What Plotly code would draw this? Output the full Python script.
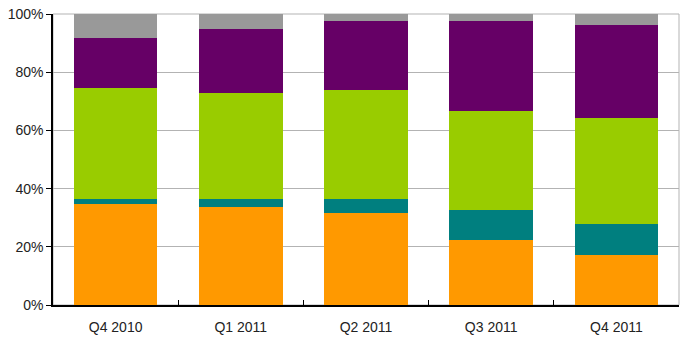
import plotly.graph_objects as go

categories = ["Q4 2010", "Q1 2011", "Q2 2011", "Q3 2011", "Q4 2011"]
orange_vals = [34.8, 33.7, 31.7, 22.5, 17.2]
teal_vals = [1.6, 2.6, 4.6, 10.1, 10.6]
green_vals = [38.3, 36.4, 37.5, 34.2, 36.3]
purple_vals = [17.2, 22.3, 23.8, 30.8, 32.0]
gray_vals = [8.1, 5.0, 2.4, 2.4, 3.9]

series = [
    ("Series 1", orange_vals, "#FF9900"),
    ("Series 2", teal_vals, "#007F7F"),
    ("Series 3", green_vals, "#99CC00"),
    ("Series 4", purple_vals, "#660066"),
    ("Series 5", gray_vals, "#999999"),
]

fig = go.Figure()
for name, vals, col in series:
    fig.add_trace(go.Bar(x=categories, y=vals, name=name, marker=dict(color=col, line=dict(width=0))))

font = dict(family="Liberation Sans, Arial, sans-serif", size=14, color="#222222")
fig.update_layout(
    width=686, height=337,
    margin=dict(l=53, r=7, t=14, b=32),
    barmode="stack", bargap=0.333,
    showlegend=False,
    plot_bgcolor="white", paper_bgcolor="white",
    font=font,
    xaxis=dict(showline=True, linecolor="#000000", linewidth=1.5, ticks="inside", ticklen=5,
               tickcolor="#000000", tickson="boundaries", showgrid=False, ticklabelstandoff=8,
               automargin=False),
    yaxis=dict(range=[0, 100], tickvals=[0, 20, 40, 60, 80, 100], ticktext=["0%", "20%", "40%", "60%", "80%", "100%"],
               showline=True, linecolor="#000000", linewidth=1.5, ticks="outside", ticklen=5,
               tickcolor="#000000", showgrid=True, gridcolor="#b3b3b3", gridwidth=1, zeroline=False,
               ticklabeloverflow="allow", automargin=False),
    shapes=[dict(type="rect", xref="paper", yref="paper", x0=0, x1=1, y0=0, y1=1,
                 line=dict(color="#b3b3b3", width=1), layer="below")],
)
fig.write_html("out.html", config={"displayModeBar": False},
               post_script="document.body.style.margin='0';")
